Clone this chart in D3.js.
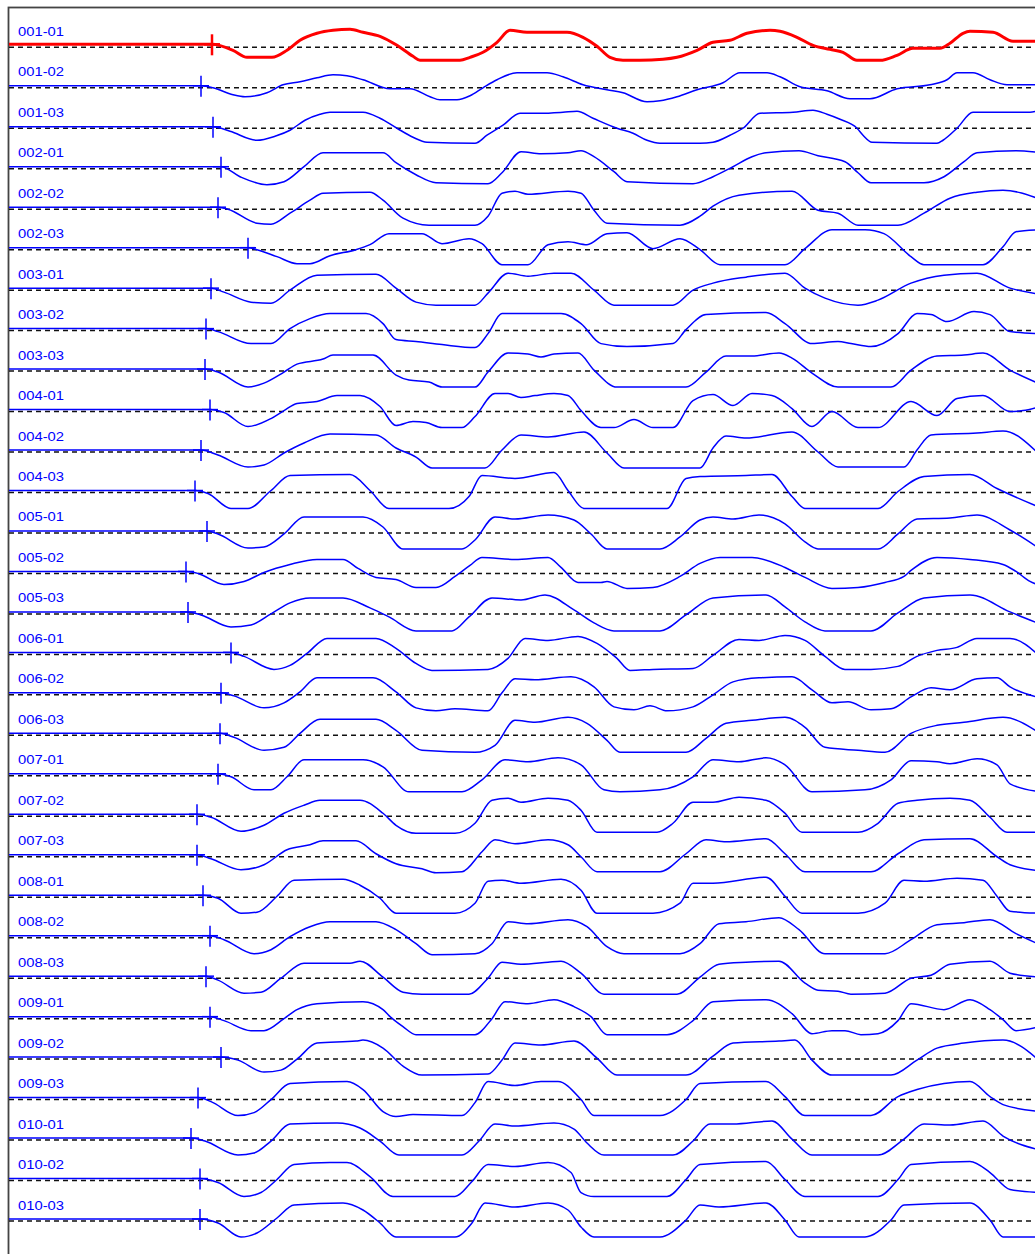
<!DOCTYPE html>
<html>
<head>
<meta charset="utf-8">
<script src="https://cdn.jsdelivr.net/npm/d3@7"></script>
<style>
  body { margin: 0; background: #fff; }
  svg { display: block; }
</style>
</head>
<body>
<div id="chart"></div>
<script>
// trial labels, top to bottom
const labels = ["001-01","001-02","001-03","002-01","002-02","002-03","003-01","003-02","003-03",
  "004-01","004-02","004-03","005-01","005-02","005-03","006-01","006-02","006-03",
  "007-01","007-02","007-03","008-01","008-02","008-03","009-01","009-02","009-03",
  "010-01","010-02","010-03"];

// resting level before onset (same units as traces)
const restLevel = [3,2,1.5,2,2,2,2,2,2,2,2,2,2,2,2,2,2,2,2,2,2,2,2,2,2,2,2,2,2,2];

// highlighted trial
const reference = "001-01";

// each trace: [frame, amplitude] pairs, first pair = onset (marker)
const traces = [
  [[212,3],[233,-3],[247,-10],[272,-10],[287,-3],[300,7],[317,14],[333,17],[350,18],[363,15],[380,11],[397,2],[413,-9],[420,-13],[460,-13],[470,-10],[483,-5],[497,5],[510,17],[527,15],[567,15],[583,10],[597,1],[610,-10],[623,-13],[640,-13],[663,-12],[677,-10],[697,-3],[713,5],[730,7],[747,14],[770,17],[780,16],[797,10],[813,2],[830,-2],[843,-5],[857,-13],[880,-13],[897,-8],[913,-1],[940,-1],[950,4],[963,14],[970,16],[993,15],[1013,6],[1040,6]],
  [[201,2],[213,0],[233,-7],[245,-9],[267,-5],[283,3],[300,6],[317,10],[333,13],[347,12],[363,8],[390,-1],[410,-1],[430,-9],[440,-12],[457,-12],[470,-8],[483,0],[497,8],[517,15],[547,15],[563,11],[583,3],[607,-2],[623,-5],[647,-14],[660,-13],[677,-9],[697,-2],[723,5],[740,15],[767,15],[780,11],[800,1],[827,-3],[850,-11],[870,-11],[897,-1],[930,3],[947,8],[957,15],[973,15],[990,8],[1007,3],[1040,3]],
  [[213,1.5],[230,-3],[257,-12],[275,-8],[290,-2],[305,8],[320,14],[330,16],[363,16],[380,10],[397,0],[413,-9],[427,-14],[475,-15],[487,-7],[503,3],[520,15],[540,15],[563,16],[577,17],[593,10],[617,0],[633,-5],[647,-12],[660,-15],[700,-15],[713,-14],[730,-7],[743,0],[760,15],[793,16],[813,18],[827,14],[840,9],[857,0],[863,-7],[872,-14],[937,-15],[943,-12],[957,0],[973,16],[1030,16],[1040,18]],
  [[221,2],[240,-8],[267,-16],[284,-13],[304,2],[323,16],[383,16],[396,6],[416,-6],[436,-14],[488,-15],[502,-4],[521,17],[541,15],[568,16],[581,18],[594,12],[614,-3],[627,-13],[693,-15],[713,-8],[733,2],[752,12],[766,16],[799,18],[818,13],[845,7],[858,-4],[871,-14],[924,-14],[944,-8],[964,7],[977,16],[1016,18],[1040,16]],
  [[218,2],[228,0],[257,-14],[271,-15],[290,-4],[310,9],[323,16],[370,17],[383,9],[403,-9],[429,-16],[475,-16],[488,-7],[502,16],[515,18],[528,15],[568,18],[581,16],[594,-1],[607,-14],[680,-16],[700,-7],[713,3],[739,14],[792,18],[818,-1],[838,-4],[858,-16],[898,-16],[924,-4],[950,11],[977,17],[1003,19],[1040,10]],
  [[248,2],[257,0],[277,-7],[297,-14],[310,-14],[330,-6],[356,0],[370,5],[389,16],[422,16],[442,6],[469,11],[482,6],[502,-15],[528,-15],[548,5],[568,8],[587,5],[607,16],[627,17],[653,1],[680,11],[700,0],[720,-15],[785,-15],[805,1],[832,20],[865,20],[884,16],[911,-7],[924,-15],[983,-15],[1003,3],[1016,18],[1040,20]],
  [[211,2],[224,-2],[251,-12],[271,-13],[290,0],[317,15],[376,16],[396,2],[416,-12],[436,-15],[475,-15],[488,-3],[508,17],[528,14],[554,17],[571,17],[594,0],[614,-15],[673,-15],[693,0],[713,7],[746,13],[785,17],[805,2],[825,-8],[858,-15],[878,-10],[911,7],[944,15],[977,17],[1010,2],[1040,-4]],
  [[206,2],[218,-1],[251,-13],[271,-13],[290,2],[310,12],[330,17],[366,17],[383,7],[396,-9],[416,-11],[442,-14],[475,-17],[488,-3],[502,17],[561,17],[581,7],[601,-13],[627,-16],[673,-13],[686,1],[706,16],[766,18],[785,7],[812,-13],[838,-11],[851,-13],[871,-16],[898,-3],[917,17],[931,16],[947,9],[974,19],[990,16],[1010,-1],[1040,-3]],
  [[205,2],[218,-1],[248,-16],[264,-12],[284,-1],[297,7],[323,12],[333,16],[373,16],[396,-4],[409,-9],[429,-11],[442,-16],[475,-16],[488,-1],[508,18],[528,17],[541,14],[554,17],[578,18],[594,1],[617,-16],[686,-16],[706,-1],[726,15],[752,15],[779,18],[792,13],[812,-2],[838,-16],[891,-16],[911,1],[937,15],[964,16],[983,18],[1010,1],[1040,-13]],
  [[210,2],[224,-1],[248,-15],[271,-7],[284,1],[297,8],[317,10],[337,16],[360,16],[380,5],[396,-14],[413,-10],[426,-11],[442,-16],[462,-16],[475,-5],[495,18],[508,18],[521,14],[535,16],[554,18],[568,16],[581,1],[601,-16],[614,-16],[634,-8],[653,-16],[673,-16],[693,11],[713,17],[733,6],[752,18],[772,16],[792,3],[812,-15],[832,0],[858,-16],[878,-16],[911,10],[937,-4],[957,13],[983,16],[1010,0],[1023,1],[1040,5]],
  [[201,2],[218,-3],[248,-15],[264,-13],[284,-1],[304,9],[330,18],[376,17],[396,4],[416,-5],[432,-16],[485,-16],[502,2],[521,17],[548,15],[584,20],[607,-1],[624,-16],[700,-16],[713,4],[726,16],[746,14],[792,20],[818,0],[838,-15],[904,-15],[917,2],[931,17],[977,19],[1003,21],[1040,-3]],
  [[195,2],[208,-1],[231,-16],[248,-16],[271,2],[290,17],[350,18],[370,2],[389,-16],[449,-16],[469,-4],[482,17],[515,14],[554,20],[568,2],[584,-16],[667,-16],[686,14],[700,16],[746,17],[772,18],[792,-4],[805,-16],[878,-16],[898,1],[924,16],[970,18],[997,4],[1040,-15]],
  [[207,2],[218,-1],[248,-15],[264,-14],[284,-1],[304,16],[363,16],[383,6],[403,-16],[462,-16],[475,-7],[495,16],[515,14],[548,18],[574,13],[591,-1],[607,-16],[660,-16],[680,-4],[700,13],[713,16],[733,14],[759,18],[785,9],[805,-9],[818,-16],[878,-16],[898,-1],[917,14],[950,15],[977,18],[1010,3],[1040,-16]],
  [[186,2],[198,0],[224,-11],[244,-8],[264,1],[290,9],[317,14],[343,14],[358,5],[376,-4],[396,-6],[416,-14],[436,-14],[455,-3],[470,8],[482,16],[515,14],[548,16],[561,6],[578,-9],[601,-9],[607,-8],[627,-15],[653,-14],[680,-3],[700,10],[720,16],[752,16],[785,6],[805,-4],[832,-15],[858,-14],[885,-9],[904,-3],[911,3],[937,16],[970,14],[1003,9],[1016,2],[1030,-8],[1040,-12]],
  [[188,2],[201,-1],[231,-13],[251,-11],[271,0],[290,11],[310,16],[343,16],[370,6],[389,-3],[416,-17],[452,-17],[469,-3],[492,16],[521,14],[545,19],[574,4],[594,-9],[614,-17],[660,-17],[686,-1],[713,16],[766,19],[785,7],[805,-8],[825,-17],[871,-17],[898,1],[924,16],[970,19],[1010,2],[1040,-10]],
  [[231,2],[244,-2],[274,-15],[290,-11],[307,1],[327,16],[376,16],[396,6],[416,-9],[432,-16],[488,-15],[508,-4],[525,16],[548,14],[578,18],[597,11],[617,-4],[630,-16],[653,-15],[693,-14],[713,-1],[739,15],[759,14],[785,19],[805,14],[825,-2],[845,-15],[871,-15],[898,-12],[917,-2],[937,4],[957,7],[977,16],[1010,16],[1040,-2]],
  [[221,2],[234,-1],[264,-13],[284,-8],[300,3],[317,17],[373,17],[396,3],[416,-13],[436,-16],[455,-14],[488,-16],[502,2],[515,16],[535,15],[571,18],[594,8],[614,-12],[634,-15],[650,-11],[667,-16],[693,-12],[713,0],[733,13],[759,17],[792,18],[812,5],[832,-8],[848,-7],[871,-15],[891,-14],[911,-2],[931,7],[950,5],[977,16],[997,17],[1010,8],[1040,-3]],
  [[220,2],[234,-2],[264,-15],[284,-12],[300,2],[320,16],[376,16],[396,5],[422,-15],[475,-17],[495,-10],[515,15],[535,13],[568,18],[587,12],[607,-5],[620,-17],[686,-17],[706,-3],[726,12],[752,15],[785,18],[805,8],[825,-12],[858,-15],[885,-17],[911,2],[937,10],[964,13],[1003,18],[1040,2]],
  [[218,2],[231,-1],[254,-14],[271,-14],[287,-1],[304,16],[363,16],[383,9],[409,-16],[462,-16],[482,-4],[505,16],[528,14],[558,18],[581,11],[604,-14],[620,-16],[660,-14],[693,-1],[713,16],[739,14],[766,18],[785,11],[812,-16],[865,-14],[891,-4],[911,15],[937,14],[950,12],[977,17],[997,11],[1010,-8],[1040,-16]],
  [[197,2],[211,-1],[241,-15],[264,-9],[284,3],[304,11],[320,16],[360,16],[383,3],[396,-9],[416,-17],[455,-17],[475,-7],[492,16],[508,18],[521,14],[548,18],[568,16],[581,6],[597,-16],[657,-16],[673,-7],[693,14],[713,14],[739,19],[766,16],[785,3],[802,-16],[858,-16],[878,-7],[898,13],[917,16],[950,18],[970,16],[990,-1],[1007,-16],[1040,-16]],
  [[197,2],[211,-2],[241,-13],[264,-8],[287,7],[310,12],[323,16],[356,16],[376,3],[396,-7],[422,-12],[436,-16],[462,-15],[482,5],[495,17],[515,13],[548,17],[568,12],[581,0],[597,-15],[660,-15],[686,3],[706,17],[726,15],[766,18],[785,3],[805,-15],[871,-15],[898,3],[924,17],[970,18],[997,0],[1010,-8],[1040,-14]],
  [[203,2],[218,-1],[241,-16],[257,-15],[277,1],[294,17],[343,18],[360,12],[380,-1],[396,-16],[455,-16],[475,-6],[488,16],[502,17],[521,14],[561,18],[581,7],[597,-16],[653,-16],[680,-6],[693,14],[713,14],[766,20],[785,1],[802,-16],[858,-16],[885,-6],[904,17],[924,16],[957,19],[983,17],[997,1],[1010,-14],[1040,-16]],
  [[210,2],[224,-2],[254,-16],[271,-12],[290,1],[310,11],[330,16],[376,16],[396,8],[416,-6],[432,-17],[475,-16],[492,-6],[508,16],[528,14],[568,18],[587,11],[607,-9],[624,-16],[680,-16],[700,-6],[719,14],[746,16],[779,20],[799,8],[825,-16],[885,-16],[911,-2],[937,13],[964,15],[990,18],[1016,4],[1040,-7]],
  [[206,2],[218,-2],[244,-15],[261,-14],[281,0],[304,15],[350,15],[360,17],[383,1],[403,-14],[422,-16],[469,-16],[488,0],[502,16],[521,14],[548,16],[561,17],[581,5],[604,-16],[677,-16],[700,1],[719,14],[746,16],[779,17],[805,-5],[818,-12],[838,-13],[851,-16],[885,-15],[911,0],[931,3],[950,14],[990,17],[1010,5],[1040,1]],
  [[210,2],[224,-2],[251,-12],[264,-12],[284,0],[297,9],[317,15],[363,17],[383,9],[389,3],[403,-8],[416,-16],[475,-16],[492,0],[505,17],[528,15],[554,19],[574,12],[591,2],[607,-16],[667,-16],[693,-2],[713,17],[766,19],[792,5],[812,-15],[832,-12],[845,-12],[861,-16],[878,-15],[898,-2],[911,15],[944,9],[970,19],[990,9],[1003,-1],[1016,-12],[1040,-8]],
  [[221,2],[238,-1],[264,-13],[281,-11],[297,0],[317,16],[356,18],[363,19],[383,11],[403,-7],[422,-16],[488,-15],[502,-1],[515,16],[541,14],[574,18],[597,1],[617,-16],[686,-16],[713,3],[733,16],[779,18],[795,19],[812,-1],[832,-16],[891,-16],[917,-1],[937,11],[964,16],[1003,19],[1040,-2]],
  [[198,2],[211,-2],[238,-16],[254,-13],[271,0],[290,16],[347,18],[363,10],[383,-12],[396,-17],[413,-15],[462,-16],[475,-3],[488,18],[515,14],[541,18],[558,18],[581,0],[594,-16],[660,-16],[686,0],[700,16],[766,18],[785,3],[805,-16],[871,-16],[898,3],[917,10],[944,16],[970,18],[990,3],[1003,-5],[1040,-12]],
  [[191,2],[205,-1],[238,-15],[254,-13],[271,-1],[290,16],[337,17],[360,12],[380,-1],[399,-15],[462,-15],[479,-1],[495,16],[515,14],[554,17],[574,11],[587,-3],[604,-15],[673,-15],[693,-1],[710,16],[733,16],[772,19],[792,1],[812,-15],[878,-15],[904,1],[924,16],[950,15],[983,19],[1003,4],[1040,-10]],
  [[200,2],[218,-2],[244,-16],[261,-12],[277,1],[294,16],[330,18],[347,18],[370,4],[393,-16],[455,-16],[472,-1],[488,16],[515,14],[548,18],[571,8],[581,-12],[594,-16],[667,-16],[686,1],[700,16],[766,19],[785,1],[805,-16],[878,-16],[898,1],[911,16],[970,19],[990,8],[1010,-9],[1040,-12]],
  [[200,2],[218,-2],[241,-16],[257,-12],[277,3],[294,16],[343,18],[363,11],[380,-2],[396,-16],[455,-16],[472,-2],[485,18],[515,14],[548,18],[568,11],[581,-6],[594,-16],[660,-16],[686,1],[700,16],[719,14],[766,18],[785,1],[799,-16],[865,-16],[891,1],[904,16],[970,18],[990,1],[1003,-16],[1040,-16]]
];

const W = 1035, H = 1254;
const frameStart = 9;

const svg = d3.select("#chart").append("svg")
  .attr("width", W).attr("height", H);

// frame index -> px
const x = d3.scaleLinear().domain([frameStart, 1035]).range([9, 1035]);
// trial -> baseline px
const row = d3.scalePoint().domain(labels).range([47.3, 1221]);
// amplitude -> px offset
const amp = d3.scaleLinear().domain([-20, 20]).range([20, -20]);

// plot frame (runs past the picture edges on right and bottom)
svg.append("rect")
  .attr("x", 8.5).attr("y", 7.5)
  .attr("width", W + 20).attr("height", H + 20)
  .attr("fill", "none").attr("stroke", "#444").attr("stroke-width", 1.8);

const line = d3.line()
  .x(d => x(d[0]))
  .y(d => amp(d[1]))
  .curve(d3.curveMonotoneX);

labels.forEach((lab, i) => {
  const g = svg.append("g").attr("transform", `translate(0,${row(lab)})`);
  const isRef = lab === reference;
  const col = isRef ? "#ff0000" : "#0000ff";
  const tr = traces[i];
  const onset = tr[0];

  // zero line
  g.append("line")
    .attr("x1", x(frameStart)).attr("x2", W + 10)
    .attr("y1", amp(0)).attr("y2", amp(0))
    .attr("stroke", "#111").attr("stroke-width", 1.5)
    .attr("stroke-dasharray", "5,4");

  // rest segment + trace
  const pts = [[frameStart, restLevel[i]]].concat(tr);
  g.append("path")
    .attr("d", line(pts))
    .attr("fill", "none")
    .attr("stroke", col)
    .attr("stroke-width", isRef ? 3 : 1.5)
    .attr("stroke-linejoin", "round");

  // onset marker
  const mx = x(onset[0]), my = amp(onset[1]);
  const mw = isRef ? 2.5 : 1.5;
  g.append("line")
    .attr("x1", mx).attr("x2", mx)
    .attr("y1", my - 10).attr("y2", my + 11)
    .attr("stroke", col).attr("stroke-width", mw);
  g.append("line")
    .attr("x1", mx - 8).attr("x2", mx + 8)
    .attr("y1", my).attr("y2", my)
    .attr("stroke", col).attr("stroke-width", mw);

  // label
  g.append("text")
    .attr("x", 18).attr("y", -11.5)
    .attr("fill", "#0000ff")
    .style("font-family", "'Liberation Sans', Arial, sans-serif")
    .style("font-size", "13px")
    .attr("textLength", 46)
    .attr("lengthAdjust", "spacingAndGlyphs")
    .text(lab);
});
</script>
</body>
</html>
